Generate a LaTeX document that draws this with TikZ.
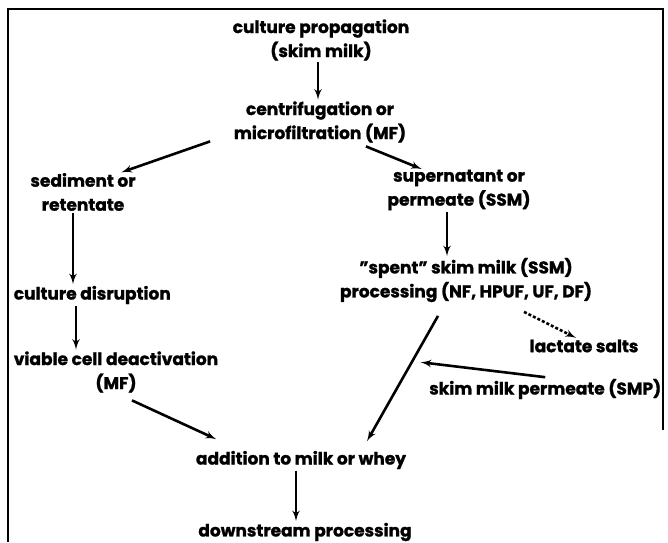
\documentclass[tikz,border=0pt]{standalone}
\usepackage{fontspec}
\setmainfont{Poppins}[BoldFeatures={FakeBold=1.2}]
\usetikzlibrary{arrows}

\begin{document}
\begin{tikzpicture}[x=1pt, y=-1pt, line width=2.6pt, font=\fontsize{17}{24}\selectfont\bfseries]
        \tikzstyle{txt} = [align=center, inner sep=0.5pt]
        \tikzstyle{line} = [draw, -latex']
        \tikzstyle{dotline} = [draw, -latex', dash pattern=on 3pt off 2pt]

        \useasboundingbox (0,0) rectangle (668,542);
        \draw [line width=2.8pt] (663,430) -- (663,9) -- (8,9) -- (8,542);

        \node [txt] (prop) at (321,40) {culture propagation\\(skim milk)};
        \node [txt] (cent) at (320,122) {centrifugation or\\microfiltration (MF)};
        \node [txt] (sed) at (83,192) {sediment or\\retentate};
        \node [txt] (sup) at (459,190) {supernatant or\\permeate (SSM)};
        \node [txt, anchor=west] (disr) at (12,295) {culture disruption};
        \node [txt, anchor=west] (deact) at (12,372) {viable cell deactivation\\(MF)};
        \node [txt] (spent) at (466,280) {"spent" skim milk (SSM)\\processing (NF, HPUF, UF, DF)};
        \node [txt] (lact) at (584,346) {lactate salts};
        \node [txt, anchor=east] (smp) at (663,389) {skim milk permeate (SMP)};
        \node [txt] (add) at (301,460) {addition to milk or whey};
        \node [txt] (down) at (305,532) {downstream processing};

        \path [line] ([xshift=-3pt]prop.south) -- ([xshift=-3pt]prop.south |- cent.north);
        \path [line] ([xshift=-22pt, yshift=3pt]cent.south west) -- ([xshift=-16pt, yshift=-1pt]sed.north east);
        \path [line] ([xshift=-42pt, yshift=-2pt]cent.south east) -- ([xshift=36pt, yshift=-1pt]sup.north west);
        \path [line] ([xshift=-10pt]sed.south) -- ([xshift=61pt]disr.north west);
        \path [line] ([xshift=64pt]disr.south west) -- ([xshift=64pt]deact.north west);
        \path [line] ([xshift=-88pt, yshift=-6pt]deact.south east) -- ([xshift=22pt, yshift=10pt]add.north west);
        \path [line] ([xshift=-12pt]sup.south) -- ([xshift=-19pt]spent.north);
        \path [dotline] ([xshift=58pt, yshift=-8pt]spent.south) -- ([xshift=-8pt]lact.north);
        \path [line] ([xshift=-28pt, yshift=-12pt]spent.south) -- coordinate[pos=0.37] (join) ([xshift=66pt, yshift=8pt]add.north);
        \path [line] (smp.north) -- ([xshift=9pt]join);
        \path [line] ([xshift=-5pt]add.south) -- ([xshift=-5pt]add.south |- down.north);
\end{tikzpicture}
\end{document}
